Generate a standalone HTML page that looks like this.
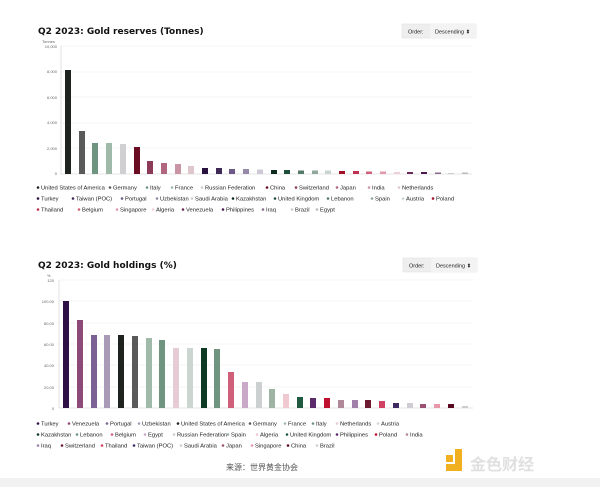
<!DOCTYPE html>
<html><head><meta charset="utf-8"><style>
body{margin:0;width:600px;height:487px;background:#fff;overflow:hidden;font-family:"Liberation Sans","Noto Sans CJK SC",sans-serif}
svg{position:absolute;left:0;top:0}
.t{font:bold 9px "DejaVu Sans",sans-serif;fill:#111}
.ax{font:4px "Liberation Sans",sans-serif;fill:#666}
.lg{font:5.8px "Liberation Sans",sans-serif;fill:#222}
.g{stroke:#eee;stroke-width:.6}
</style></head><body>
<svg width="600" height="487" viewBox="0 0 600 487">
<rect x="0" y="0" width="600" height="487" fill="#fff"/>
<text class="t" x="38" y="34">Q2 2023: Gold reserves (Tonnes)</text>
<rect x="402" y="24" width="74" height="14" fill="#eee" stroke="#ddd" stroke-width=".5"/>
<rect x="430" y="24" width="46" height="14" fill="#f3f3f3"/>
<text class="lg" x="408" y="33.5" style="font-size:5.5px">Order:</text>
<text class="lg" x="435" y="33.5" style="font-size:5.5px">Descending ⬍</text>
<text class="ax" x="42" y="43">Tonnes</text>
<g class="g"><line x1="61" x2="472" y1="46" y2="46"/><line x1="61" x2="472" y1="72" y2="72"/><line x1="61" x2="472" y1="97" y2="97"/><line x1="61" x2="472" y1="123" y2="123"/><line x1="61" x2="472" y1="148" y2="148"/></g>
<line x1="61" x2="472" y1="174" y2="174" stroke="#ccc" stroke-width=".6"/>
<line x1="61" x2="61" y1="46" y2="174" stroke="#ccc" stroke-width=".6"/>
<g class="ax" text-anchor="end"><text x="57" y="48">10,000</text><text x="57" y="73">8,000</text><text x="57" y="99">6,000</text><text x="57" y="124">4,000</text><text x="57" y="150">2,000</text><text x="57" y="175">0</text></g>
<g>
<rect x="65" y="70" width="6" height="104" fill="#1f2320"/>
<rect x="79" y="131" width="6" height="43" fill="#5a5a5a"/>
<rect x="92" y="143" width="6" height="31" fill="#6f9580"/>
<rect x="106" y="143" width="6" height="31" fill="#9fbaa9"/>
<rect x="120" y="144" width="6" height="30" fill="#d0d0d2"/>
<rect x="134" y="147" width="6" height="27" fill="#6b0d22"/>
<rect x="147" y="161" width="6" height="13" fill="#8b3a57"/>
<rect x="161" y="163" width="6" height="11" fill="#b0667e"/>
<rect x="175" y="164" width="6" height="10" fill="#c994a4"/>
<rect x="188" y="166" width="6" height="8" fill="#ddc6cc"/>
<rect x="202" y="168" width="6" height="6" fill="#2a1240"/>
<rect x="216" y="168" width="6" height="6" fill="#3d2a55"/>
<rect x="229" y="169" width="6" height="5" fill="#6a5a85"/>
<rect x="243" y="169" width="6" height="5" fill="#968aa8"/>
<rect x="257" y="169.5" width="6" height="4.5" fill="#cfc8d6"/>
<rect x="271" y="170" width="6" height="4" fill="#0e2c1e"/>
<rect x="284" y="170" width="6" height="4" fill="#1f4f3a"/>
<rect x="298" y="170.5" width="6" height="3.5" fill="#557a6a"/>
<rect x="312" y="170.5" width="6" height="3.5" fill="#8fa89c"/>
<rect x="325" y="170.5" width="6" height="3.5" fill="#c9d4cf"/>
<rect x="339" y="171" width="6" height="3" fill="#a3102a"/>
<rect x="353" y="171" width="6" height="3" fill="#c03050"/>
<rect x="366" y="171.5" width="6" height="2.5" fill="#d0607a"/>
<rect x="380" y="171.5" width="6" height="2.5" fill="#e098aa"/>
<rect x="394" y="172" width="6" height="2" fill="#f0d0d8"/>
<rect x="407" y="172" width="6" height="2" fill="#6a2a5a"/>
<rect x="421" y="172" width="6" height="2" fill="#4a1a4a"/>
<rect x="435" y="172.5" width="6" height="1.5" fill="#8a6a8a"/>
<rect x="448" y="173" width="6" height="1" fill="#ccc"/>
<rect x="462" y="172.5" width="6" height="1.5" fill="#bbb"/>
</g>
<g class="lg">
<circle cx="38" cy="187.5" r="1.3" fill="#1f2320"/><text x="41" y="189.5">United States of America</text>
<circle cx="110" cy="187.5" r="1.3" fill="#5a5a5a"/><text x="113" y="189.5">Germany</text>
<circle cx="147" cy="187.5" r="1.3" fill="#6f9580"/><text x="150" y="189.5">Italy</text>
<circle cx="172" cy="187.5" r="1.3" fill="#9fbaa9"/><text x="175" y="189.5">France</text>
<circle cx="202" cy="187.5" r="1.3" fill="#d0d0d2"/><text x="205" y="189.5">Russian Federation</text>
<circle cx="267" cy="187.5" r="1.3" fill="#6b0d22"/><text x="270" y="189.5">China</text>
<circle cx="296" cy="187.5" r="1.3" fill="#8b3a57"/><text x="299" y="189.5">Switzerland</text>
<circle cx="337" cy="187.5" r="1.3" fill="#b0667e"/><text x="340" y="189.5">Japan</text>
<circle cx="369" cy="187.5" r="1.3" fill="#c994a4"/><text x="372" y="189.5">India</text>
<circle cx="399" cy="187.5" r="1.3" fill="#ddc6cc"/><text x="402" y="189.5">Netherlands</text>
<circle cx="38" cy="198.5" r="1.3" fill="#2a1240"/><text x="41" y="200.5">Turkey</text>
<circle cx="73" cy="198.5" r="1.3" fill="#3d2a55"/><text x="76" y="200.5">Taiwan (POC)</text>
<circle cx="122" cy="198.5" r="1.3" fill="#6a5a85"/><text x="125" y="200.5">Portugal</text>
<circle cx="157" cy="198.5" r="1.3" fill="#968aa8"/><text x="160" y="200.5">Uzbekistan</text>
<circle cx="192" cy="198.5" r="1.3" fill="#cfc8d6"/><text x="195" y="200.5">Saudi Arabia</text>
<circle cx="233" cy="198.5" r="1.3" fill="#0e2c1e"/><text x="236" y="200.5">Kazakhstan</text>
<circle cx="275" cy="198.5" r="1.3" fill="#1f4f3a"/><text x="278" y="200.5">United Kingdom</text>
<circle cx="328" cy="198.5" r="1.3" fill="#557a6a"/><text x="331" y="200.5">Lebanon</text>
<circle cx="372" cy="198.5" r="1.3" fill="#8fa89c"/><text x="375" y="200.5">Spain</text>
<circle cx="403" cy="198.5" r="1.3" fill="#c9d4cf"/><text x="406" y="200.5">Austria</text>
<circle cx="433" cy="198.5" r="1.3" fill="#a3102a"/><text x="436" y="200.5">Poland</text>
<circle cx="38" cy="209.5" r="1.3" fill="#c03050"/><text x="41" y="211.5">Thailand</text>
<circle cx="79" cy="209.5" r="1.3" fill="#d0607a"/><text x="82" y="211.5">Belgium</text>
<circle cx="117" cy="209.5" r="1.3" fill="#e098aa"/><text x="120" y="211.5">Singapore</text>
<circle cx="153" cy="209.5" r="1.3" fill="#f0d0d8"/><text x="156" y="211.5">Algeria</text>
<circle cx="183" cy="209.5" r="1.3" fill="#6a2a5a"/><text x="186" y="211.5">Venezuela</text>
<circle cx="223" cy="209.5" r="1.3" fill="#4a1a4a"/><text x="226" y="211.5">Philippines</text>
<circle cx="263" cy="209.5" r="1.3" fill="#8a6a8a"/><text x="266" y="211.5">Iraq</text>
<circle cx="292" cy="209.5" r="1.3" fill="#ccc"/><text x="295" y="211.5">Brazil</text>
<circle cx="317" cy="209.5" r="1.3" fill="#bbb"/><text x="320" y="211.5">Egypt</text>
</g>
<text class="t" x="38" y="268">Q2 2023: Gold holdings (%)</text>
<rect x="403" y="258" width="74" height="14" fill="#eee" stroke="#ddd" stroke-width=".5"/>
<rect x="431" y="258" width="46" height="14" fill="#f3f3f3"/>
<text class="lg" x="409" y="267.5" style="font-size:5.5px">Order:</text>
<text class="lg" x="436" y="267.5" style="font-size:5.5px">Descending ⬍</text>
<text class="ax" x="47" y="277">%</text>
<g class="g"><line x1="59" x2="473" y1="280" y2="280"/><line x1="59" x2="473" y1="301" y2="301"/><line x1="59" x2="473" y1="323" y2="323"/><line x1="59" x2="473" y1="344" y2="344"/><line x1="59" x2="473" y1="365" y2="365"/><line x1="59" x2="473" y1="387" y2="387"/></g>
<line x1="59" x2="473" y1="408" y2="408" stroke="#ccc" stroke-width=".6"/>
<line x1="59" x2="59" y1="280" y2="408" stroke="#ccc" stroke-width=".6"/>
<g class="ax" text-anchor="end"><text x="54" y="282">120</text><text x="54" y="303">100.00</text><text x="54" y="325">80.00</text><text x="54" y="346">60.00</text><text x="54" y="367">40.00</text><text x="54" y="389">20.00</text><text x="54" y="410">0</text></g>
<g>
<rect x="63" y="301" width="6" height="107" fill="#2e1045"/>
<rect x="77" y="320" width="6" height="88" fill="#8b4a78"/>
<rect x="91" y="335" width="6" height="73" fill="#7a6394"/>
<rect x="104" y="335" width="6" height="73" fill="#a99ab8"/>
<rect x="118" y="335" width="6" height="73" fill="#1f2320"/>
<rect x="132" y="336" width="6" height="72" fill="#5a5a5a"/>
<rect x="146" y="338" width="6" height="70" fill="#9fbaa9"/>
<rect x="159" y="340" width="6" height="68" fill="#6f9580"/>
<rect x="173" y="348" width="6" height="60" fill="#e6ccd4"/>
<rect x="187" y="348" width="6" height="60" fill="#ccd6d0"/>
<rect x="201" y="348" width="6" height="60" fill="#0e3a24"/>
<rect x="214" y="349" width="6" height="59" fill="#6f9580"/>
<rect x="228" y="372" width="6" height="36" fill="#d0607a"/>
<rect x="242" y="382" width="6" height="26" fill="#c9a8c8"/>
<rect x="256" y="382" width="6" height="26" fill="#ccd0d0"/>
<rect x="269" y="389" width="6" height="19" fill="#9fb3a5"/>
<rect x="283" y="394" width="6" height="14" fill="#f0c8d0"/>
<rect x="297" y="397" width="6" height="11" fill="#1f5a40"/>
<rect x="310" y="398" width="6" height="10" fill="#5a2a6a"/>
<rect x="324" y="398" width="6" height="10" fill="#c01030"/>
<rect x="338" y="400" width="6" height="8" fill="#b08898"/>
<rect x="352" y="400" width="6" height="8" fill="#a080a8"/>
<rect x="365" y="400" width="6" height="8" fill="#6b1a30"/>
<rect x="379" y="401" width="6" height="7" fill="#d04060"/>
<rect x="393" y="403" width="6" height="5" fill="#3d2a60"/>
<rect x="407" y="403" width="6" height="5" fill="#d0ccd6"/>
<rect x="420" y="404" width="6" height="4" fill="#9a5070"/>
<rect x="434" y="404" width="6" height="4" fill="#e898aa"/>
<rect x="448" y="404" width="6" height="4" fill="#5a0a20"/>
<rect x="462" y="406" width="6" height="2" fill="#ccc"/>
</g>
<g class="lg">
<circle cx="38" cy="423.5" r="1.3" fill="#2e1045"/><text x="41" y="425.5">Turkey</text>
<circle cx="69" cy="423.5" r="1.3" fill="#8b4a78"/><text x="72" y="425.5">Venezuela</text>
<circle cx="107" cy="423.5" r="1.3" fill="#7a6394"/><text x="110" y="425.5">Portugal</text>
<circle cx="139" cy="423.5" r="1.3" fill="#a99ab8"/><text x="142" y="425.5">Uzbekistan</text>
<circle cx="178" cy="423.5" r="1.3" fill="#1f2320"/><text x="181" y="425.5">United States of America</text>
<circle cx="250" cy="423.5" r="1.3" fill="#5a5a5a"/><text x="253" y="425.5">Germany</text>
<circle cx="285" cy="423.5" r="1.3" fill="#9fbaa9"/><text x="288" y="425.5">France</text>
<circle cx="313" cy="423.5" r="1.3" fill="#6f9580"/><text x="316" y="425.5">Italy</text>
<circle cx="337" cy="423.5" r="1.3" fill="#e6ccd4"/><text x="340" y="425.5">Netherlands</text>
<circle cx="378" cy="423.5" r="1.3" fill="#ccd6d0"/><text x="381" y="425.5">Austria</text>
<circle cx="38" cy="434.5" r="1.3" fill="#0e3a24"/><text x="41" y="436.5">Kazakhstan</text>
<circle cx="77" cy="434.5" r="1.3" fill="#6f9580"/><text x="80" y="436.5">Lebanon</text>
<circle cx="112" cy="434.5" r="1.3" fill="#d0607a"/><text x="115" y="436.5">Belgium</text>
<circle cx="145" cy="434.5" r="1.3" fill="#c9a8c8"/><text x="148" y="436.5">Egypt</text>
<circle cx="174" cy="434.5" r="1.3" fill="#ccd0d0"/><text x="177" y="436.5">Russian Federation</text>
<circle cx="228" cy="434.5" r="1.3" fill="#9fb3a5"/><text x="231" y="436.5">Spain</text>
<circle cx="257" cy="434.5" r="1.3" fill="#f0c8d0"/><text x="260" y="436.5">Algeria</text>
<circle cx="287" cy="434.5" r="1.3" fill="#1f5a40"/><text x="290" y="436.5">United Kingdom</text>
<circle cx="337" cy="434.5" r="1.3" fill="#5a2a6a"/><text x="340" y="436.5">Philippines</text>
<circle cx="376" cy="434.5" r="1.3" fill="#c01030"/><text x="379" y="436.5">Poland</text>
<circle cx="407" cy="434.5" r="1.3" fill="#b08898"/><text x="410" y="436.5">India</text>
<circle cx="38" cy="445.5" r="1.3" fill="#a080a8"/><text x="41" y="447.5">Iraq</text>
<circle cx="62" cy="445.5" r="1.3" fill="#6b1a30"/><text x="65" y="447.5">Switzerland</text>
<circle cx="102" cy="445.5" r="1.3" fill="#d04060"/><text x="105" y="447.5">Thailand</text>
<circle cx="134" cy="445.5" r="1.3" fill="#3d2a60"/><text x="137" y="447.5">Taiwan (POC)</text>
<circle cx="181" cy="445.5" r="1.3" fill="#d0ccd6"/><text x="184" y="447.5">Saudi Arabia</text>
<circle cx="223" cy="445.5" r="1.3" fill="#9a5070"/><text x="226" y="447.5">Japan</text>
<circle cx="252" cy="445.5" r="1.3" fill="#e898aa"/><text x="255" y="447.5">Singapore</text>
<circle cx="288" cy="445.5" r="1.3" fill="#5a0a20"/><text x="291" y="447.5">China</text>
<circle cx="317" cy="445.5" r="1.3" fill="#ccc"/><text x="320" y="447.5">Brazil</text>
</g>
<rect x="0" y="478" width="600" height="9" fill="#f2f2f2"/>
<text x="262" y="470" text-anchor="middle" style="font:8px 'Noto Sans CJK SC',sans-serif;fill:#555">来源：世界黄金协会</text>
<rect x="446" y="455" width="7" height="7" fill="#f0b020"/>
<rect x="455" y="449" width="7" height="22" fill="#f0b020"/>
<rect x="446" y="464" width="16" height="7" fill="#f0b020"/>
<text x="470" y="470" style="font:bold 16px 'Noto Sans CJK SC',sans-serif;fill:#e0e0e0">金色财经</text>
</svg>
</body></html>
